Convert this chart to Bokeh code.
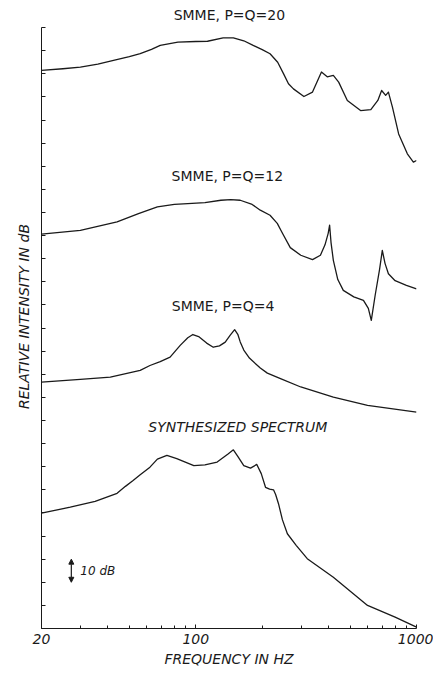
from bokeh.plotting import figure
from bokeh.models import Range1d, FixedTicker, Label, Arrow, NormalHead
from bokeh.embed import file_html
from bokeh.resources import INLINE

# SMME, P=Q=20
f20 = [20, 25, 30, 36, 42.4, 50, 56, 63, 69, 83, 100, 113, 133, 148, 165, 182, 200, 217, 235, 250, 263, 277, 309, 338, 371, 394, 420, 444, 486, 558, 621, 668, 695, 725, 746, 778, 830, 909, 968, 1000]
d20 = [241.5, 242.2, 242.9, 244.2, 245.8, 247.4, 248.7, 250.6, 252.3, 253.7, 254, 254.1, 255.6, 255.6, 254.3, 252.3, 250.5, 248.7, 245, 240, 235.7, 233.5, 230.2, 232.1, 240.8, 238.7, 239.3, 236.4, 228.5, 224.1, 224.5, 228.5, 232.8, 230.7, 232.1, 225.6, 214, 205.4, 201.8, 202.5]

# SMME, P=Q=12
f12 = [20, 30, 44, 55, 67, 80, 92, 110, 130, 144, 159, 180, 196, 217, 234, 247, 268, 299, 338, 367, 385, 398, 404, 410, 420, 440, 466, 520, 575, 605, 624, 650, 680, 700, 720, 746, 800, 900, 1000]
d12 = [170.6, 172.3, 175.9, 179.5, 182.4, 183.5, 183.8, 184.3, 185.3, 185.6, 185.3, 183.5, 181, 178.8, 175.3, 171, 164.8, 161.5, 159.6, 161.5, 166, 171, 174.5, 167, 159.3, 151, 146.3, 143.5, 142, 138.5, 133.3, 144.3, 155.3, 163.6, 158, 153.5, 150.5, 148.5, 147]

# SMME, P=Q=4
f4 = [20, 30, 41, 56, 62, 69, 76.5, 85, 92, 97, 103, 112, 120, 128, 136, 143, 150, 155, 159, 165, 175, 196, 211, 242, 299, 420, 600, 1000]
d4 = [106.6, 107.8, 108.8, 111.7, 113.8, 115.5, 117.4, 122.5, 125.8, 127.2, 126.3, 123.5, 121.7, 122.3, 123.9, 126.8, 129.3, 127.3, 124, 120.5, 117, 112.7, 110.5, 108.1, 104.5, 100.1, 96.5, 93.6]

# Synthesized spectrum
fs = [20, 27, 35, 44, 48, 52, 56, 62, 67, 74, 82, 98, 110, 125, 140, 148, 155, 165, 177, 189, 198, 207, 216, 225, 230, 237, 247, 260, 285, 320, 420, 600, 800, 1000]
ds = [49.9, 52.5, 55, 58.5, 61.5, 64, 66.5, 69.8, 73.3, 74.9, 73.5, 70.5, 70.8, 72, 75.5, 77.3, 74.5, 70.5, 69.4, 71, 67, 61.1, 60.3, 60, 58, 54, 47, 41, 36, 30.2, 22.2, 10, 4.9, 0.6]

x_ticks = [20, 100, 1000]
x_minor = [30, 40, 50, 60, 70, 80, 90, 200, 300, 400, 500, 600, 700, 800, 900]
y_ticks = list(range(0, 261, 10))

FONT = "DejaVu Sans"
INK = "#1a1a1a"

p = figure(width=433, height=675, x_axis_type="log",
           x_range=Range1d(20, 1000), y_range=Range1d(0, 270),
           output_backend="svg", toolbar_location=None,
           min_border_left=41, min_border_right=17,
           min_border_top=4, min_border_bottom=47)
p.outline_line_color = None
p.xgrid.visible = False
p.ygrid.visible = False
p.background_fill_color = "white"

for fx, dy in [(f20, d20), (f12, d12), (f4, d4), (fs, ds)]:
    p.line(fx, dy, line_color=INK, line_width=1.3, line_join="round")

xa = p.xaxis[0]
xa.ticker = FixedTicker(ticks=x_ticks, minor_ticks=x_minor)
xa.major_label_overrides = {20: "20", 100: "100", 1000: "1000"}
xa.major_tick_in = 4
xa.major_tick_out = 0
xa.minor_tick_in = 3
xa.minor_tick_out = 0
xa.axis_line_color = INK
xa.major_tick_line_color = INK
xa.minor_tick_line_color = INK
xa.major_label_text_font = FONT
xa.major_label_text_font_style = "italic"
xa.major_label_text_font_size = "14px"
xa.major_label_text_color = INK
xa.major_label_standoff = 5
xa.axis_label = "FREQUENCY IN HZ"
xa.axis_label_text_font = FONT
xa.axis_label_text_font_style = "italic"
xa.axis_label_text_font_size = "14px"
xa.axis_label_text_color = INK
xa.axis_label_standoff = 4

ya = p.yaxis[0]
ya.ticker = FixedTicker(ticks=[], minor_ticks=y_ticks)
ya.bounds = (0, 260)
ya.minor_tick_in = 4
ya.minor_tick_out = 0
ya.minor_tick_line_color = INK
ya.major_tick_line_color = None
ya.axis_line_color = INK
ya.axis_label = "RELATIVE INTENSITY IN dB"
ya.axis_label_text_font = FONT
ya.axis_label_text_font_style = "italic"
ya.axis_label_text_font_size = "14px"
ya.axis_label_text_color = INK
ya.axis_label_standoff = 10

labels = [
    (142, 265.3, "SMME, P=Q=20", "normal"),
    (139, 195.6, "SMME, P=Q=12", "normal"),
    (133, 139.5, "SMME, P=Q=4", "normal"),
    (155, 87.4, "SYNTHESIZED SPECTRUM", "italic"),
]
for lx, ly, txt, style in labels:
    p.add_layout(Label(x=lx, y=ly, text=txt, text_align="center", text_baseline="middle",
                       text_font=FONT, text_font_size="14px", text_font_style=style,
                       text_color=INK))

p.add_layout(Arrow(start=NormalHead(size=5, fill_color=INK, line_color=INK),
                   end=NormalHead(size=5, fill_color=INK, line_color=INK),
                   x_start=27.3, y_start=20, x_end=27.3, y_end=30,
                   line_color=INK, line_width=1.2))
p.add_layout(Label(x=30, y=24.8, text="10 dB", text_align="left", text_baseline="middle",
                   text_font=FONT, text_font_size="12px", text_font_style="italic",
                   text_color=INK))

open("out.html", "w").write(file_html(p, INLINE))
